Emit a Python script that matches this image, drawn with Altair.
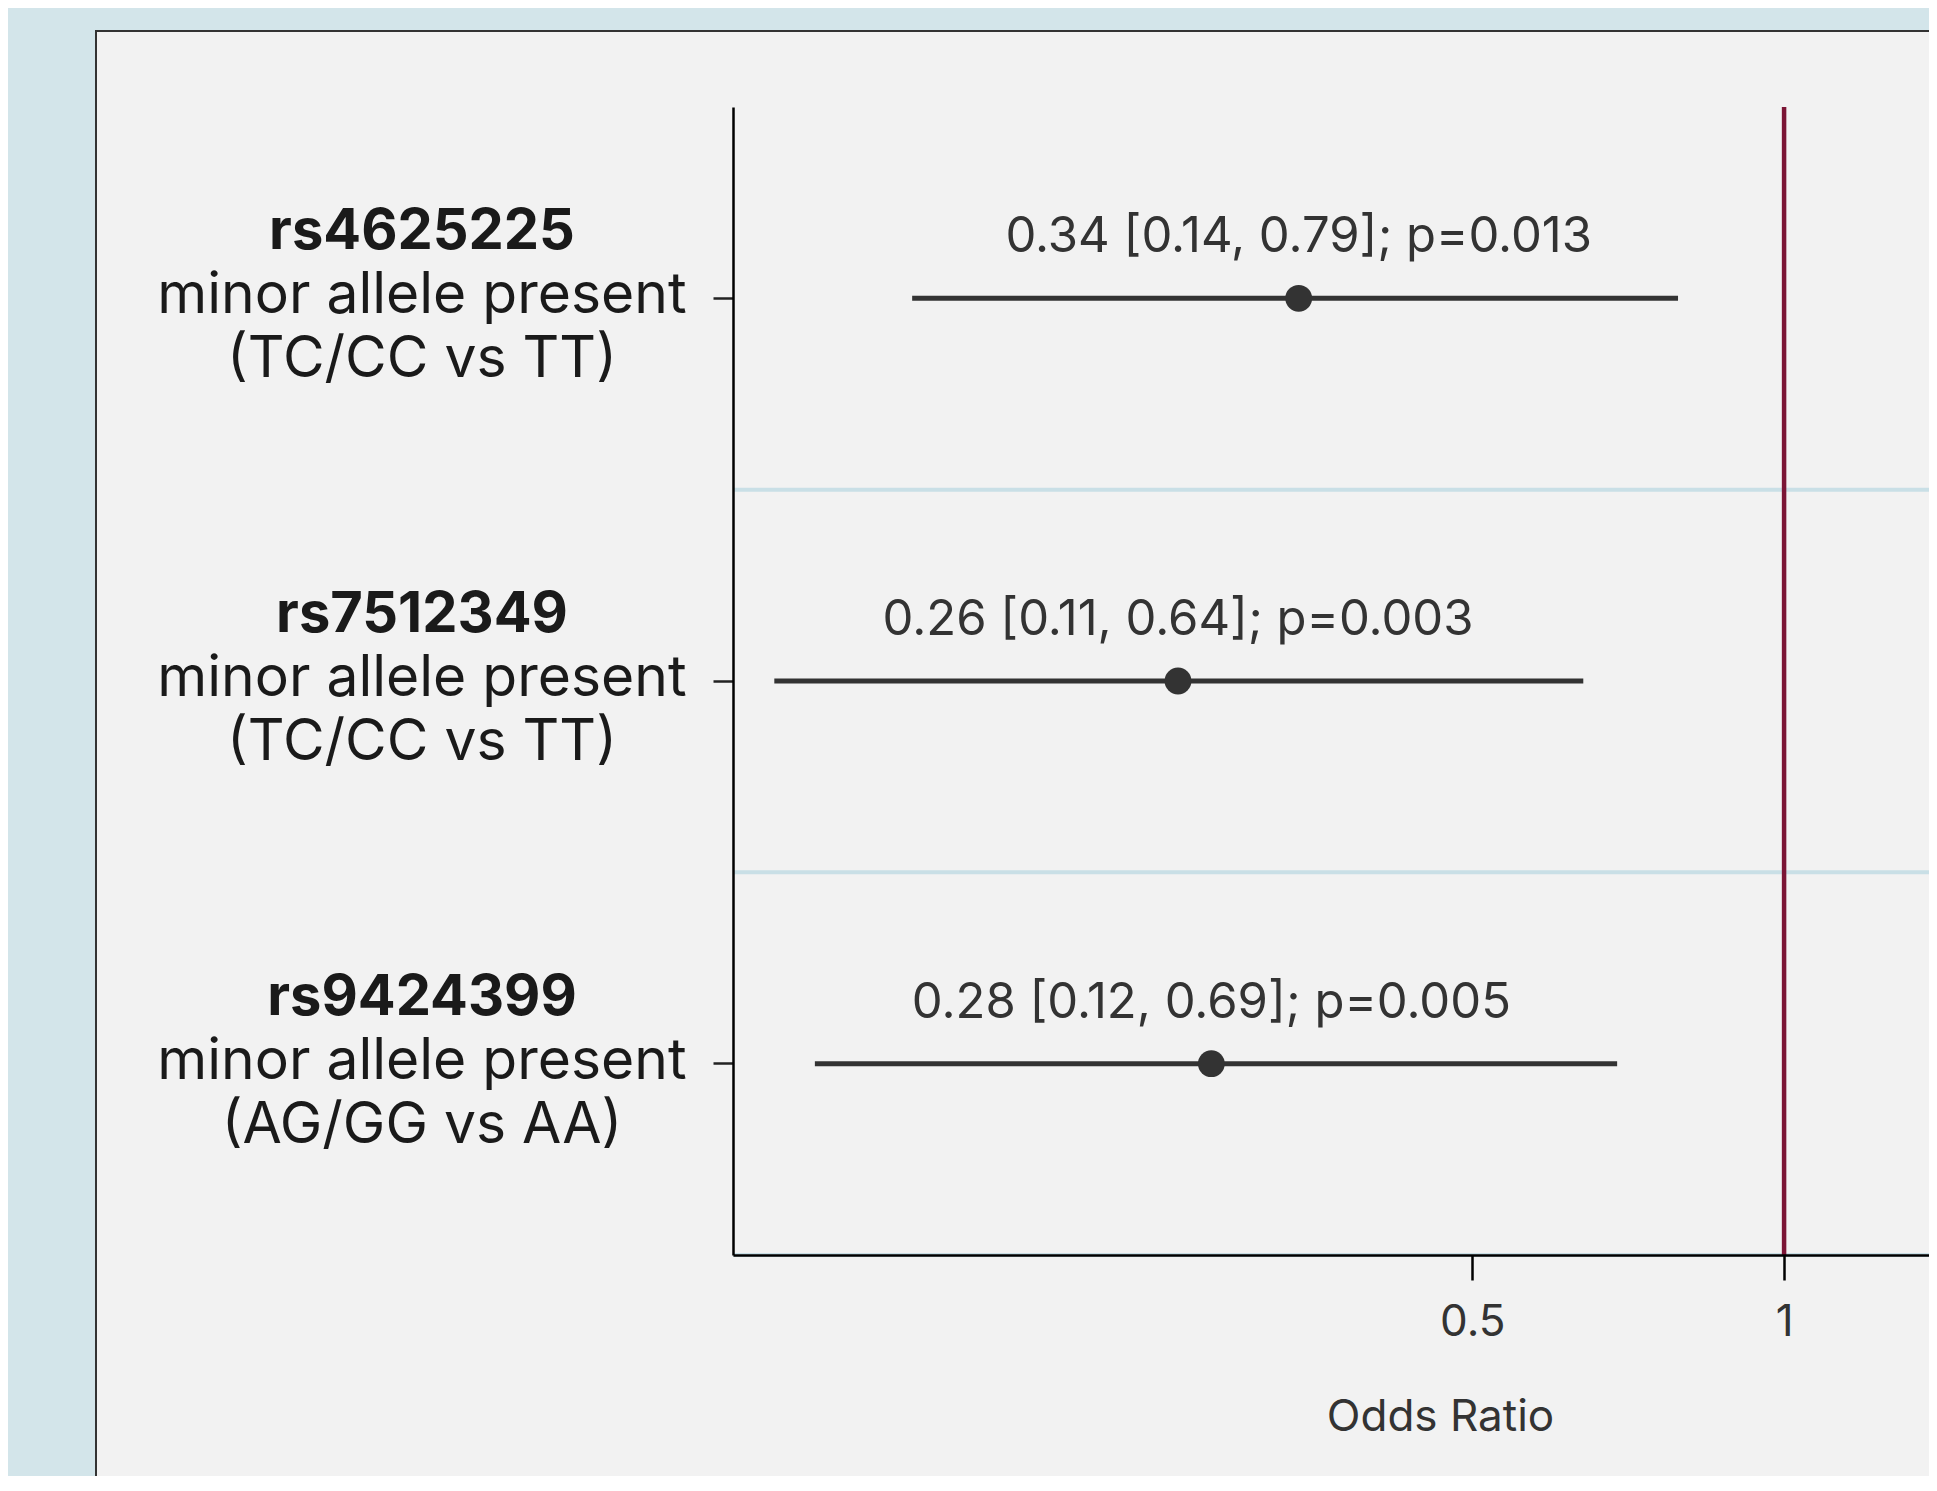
import altair as alt
import pandas as pd

# ---- data ----
snps = ["rs4625225", "rs7512349", "rs9424399"]
comparisons = ["minor allele present", "minor allele present", "minor allele present"]
genotypes = ["(TC/CC vs TT)", "(TC/CC vs TT)", "(AG/GG vs AA)"]
odds_ratio = [0.34, 0.26, 0.28]
ci_low = [0.144, 0.106, 0.116]
ci_high = [0.79, 0.64, 0.69]
p_values = ["0.013", "0.003", "0.005"]
x_tick_values = [0.5, 1]
reference_line = [1]

df = pd.DataFrame({
    "snp": snps,
    "comparison": comparisons,
    "genotype": genotypes,
    "or": odds_ratio,
    "lo": ci_low,
    "hi": ci_high,
    "p": p_values,
})
df["annot"] = [f"{o:.2f} [{l:.2f}, {h:.2f}]; p={p}"
               for o, l, h, p in zip(odds_ratio, ci_low, ci_high, p_values)]
ref_df = pd.DataFrame({"ref": reference_line})

FONT = "Inter"
OUTER = "#d3e5ea"
PANEL = "#f2f2f2"

xscale = alt.Scale(type="log", domain=[0.0967, 1.38], nice=False)
yscale = alt.Scale(domain=snps, paddingInner=0, paddingOuter=0)

xaxis = alt.Axis(
    values=x_tick_values, format="~g", grid=False, zindex=1,
    domainColor="#000000", domainWidth=2.5,
    tickColor="#000000", tickWidth=2.5, tickSize=25,
    labelFont=FONT, labelFontSize=44, labelColor="#333333", labelPadding=20,
    title="Odds Ratio", titleFont=FONT, titleFontSize=44, titleFontWeight="normal",
    titleColor="#333333", titleX=707, titleY=175, titleAlign="center",
    titleBaseline="alphabetic",
)
yaxis = alt.Axis(
    labels=False, title=None, grid=False, zindex=1,
    domainColor="#000000", domainWidth=2.5,
    tickColor="#222222", tickWidth=2.5, tickSize=20,
)

X = lambda f: alt.X(f, scale=xscale, axis=xaxis)
Y = lambda f, **kw: alt.Y(f, scale=yscale, axis=yaxis, **kw)

panel = alt.Chart(alt.Data(values=[{"p": 1}])).mark_rect(
    fill=PANEL, stroke="#333333", strokeWidth=2
).encode(
    x=alt.value(-637), x2=alt.value(1500), y=alt.value(-76), y2=alt.value(1500)
)

base = alt.Chart(df)

separators = base.mark_rule(color="#c9dfe6", strokeWidth=4).encode(
    y=Y("snp:N", bandPosition=1)
)

red = alt.Chart(ref_df).mark_rule(color="#7b1535", strokeWidth=4.5).encode(
    x=X("ref:Q")
)

bars = base.mark_rule(color="#333333", strokeWidth=5).encode(
    x=X("lo:Q"), x2="hi:Q", y=Y("snp:N")
)

points = base.mark_circle(size=720, color="#333333", opacity=1).encode(
    x=X("or:Q"), y=Y("snp:N")
)

annot = base.mark_text(
    font=FONT, fontSize=49, color="#333333", align="center",
    baseline="alphabetic", dy=-46
).encode(x=X("or:Q"), y=Y("snp:N"), text="annot:N")

lab_bold = base.mark_text(
    font=FONT, fontSize=56, fontWeight="bold", color="#1a1a1a",
    align="center", baseline="alphabetic", dy=-49
).encode(x=alt.value(-311), y=Y("snp:N"), text="snp:N")

lab_comp = base.mark_text(
    font=FONT, fontSize=57, color="#1a1a1a",
    align="center", baseline="alphabetic", dy=15
).encode(x=alt.value(-311), y=Y("snp:N"), text="comparison:N")

lab_geno = base.mark_text(
    font=FONT, fontSize=57, color="#1a1a1a",
    align="center", baseline="alphabetic", dy=79
).encode(x=alt.value(-311), y=Y("snp:N"), text="genotype:N")

chart = alt.layer(
    panel, separators, red, bars, points, annot, lab_bold, lab_comp, lab_geno
).properties(
    width=1196, height=1148,
    background=OUTER,
    autosize=alt.AutoSizeParams(type="none"),
    padding={"left": 725, "top": 99, "right": 0, "bottom": 221},
).configure_view(strokeWidth=0)

chart.save("out.html", embed_options={"renderer": "svg", "actions": False})
